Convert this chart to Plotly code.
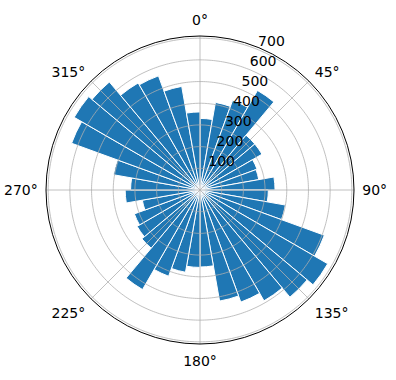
import plotly.graph_objects as go

# bin centres (degrees, clockwise from north) and counts
directions = [5, 15, 25, 35, 45, 55, 65, 75, 85, 95, 105, 115, 125, 135, 145, 155, 165, 175,
              185, 195, 205, 215, 225, 235, 245, 255, 265, 275, 285, 295, 305, 315, 325, 335, 345, 355]
counts = [330, 410, 440, 530, 330, 330, 280, 275, 346, 315, 400, 610, 680, 645, 590, 550, 520, 355,
          357, 385, 423, 530, 350, 335, 322, 270, 345, 320, 405, 630, 670, 650, 570, 560, 485, 360]
bin_width = 10

angle_ticks = [0, 45, 90, 135, 180, 225, 270, 315]
angle_labels = ["0°", "45°", "90°", "135°", "180°", "225°", "270°", "315°"]
radial_ticks = [100, 200, 300, 400, 500, 600, 700]
radial_label_angle = 22.5
r_max = 710

GRID = "#b0b0b0"
FONT = dict(family="DejaVu Sans", size=14, color="black")

fig = go.Figure()
fig.add_trace(go.Barpolar(
    theta=directions,
    r=counts,
    width=[bin_width] * len(directions),
    marker=dict(color="#1f77b4", line=dict(color="white", width=1)),
    opacity=1,
    hoverinfo="skip",
))

# grid drawn on top of the bars (as matplotlib does)
circle_theta = list(range(0, 361))
for rv in radial_ticks:
    fig.add_trace(go.Scatterpolar(
        theta=circle_theta, r=[rv] * len(circle_theta), mode="lines",
        line=dict(color=GRID, width=0.8), hoverinfo="skip",
    ))
for av in angle_ticks:
    fig.add_trace(go.Scatterpolar(
        theta=[av, av], r=[0, r_max], mode="lines",
        line=dict(color=GRID, width=0.8), hoverinfo="skip",
    ))

# radial tick labels along the 22.5° direction
fig.add_trace(go.Scatterpolar(
    theta=[radial_label_angle] * len(radial_ticks), r=radial_ticks,
    mode="text", text=[str(v) for v in radial_ticks], textposition="top right",
    textfont=FONT, hoverinfo="skip",
))

fig.update_layout(
    width=396, height=380,
    margin=dict(l=0, r=0, t=0, b=0),
    paper_bgcolor="white",
    showlegend=False,
    font=FONT,
    polar=dict(
        domain=dict(x=[46 / 396, 354 / 396], y=[36 / 380, 344 / 380]),
        bgcolor="white",
        bargap=0,
        angularaxis=dict(
            rotation=90, direction="clockwise",
            tickmode="array", tickvals=angle_ticks, ticktext=angle_labels,
            ticks="outside", ticklen=5, tickcolor="rgba(0,0,0,0)",
            tickfont=FONT,
            showgrid=False,
            showline=True, linecolor="black", linewidth=1,
        ),
        radialaxis=dict(
            range=[0, r_max], showticklabels=False,
            showgrid=False, showline=False, ticks="",
        ),
    ),
)

fig.write_html("out.html")
